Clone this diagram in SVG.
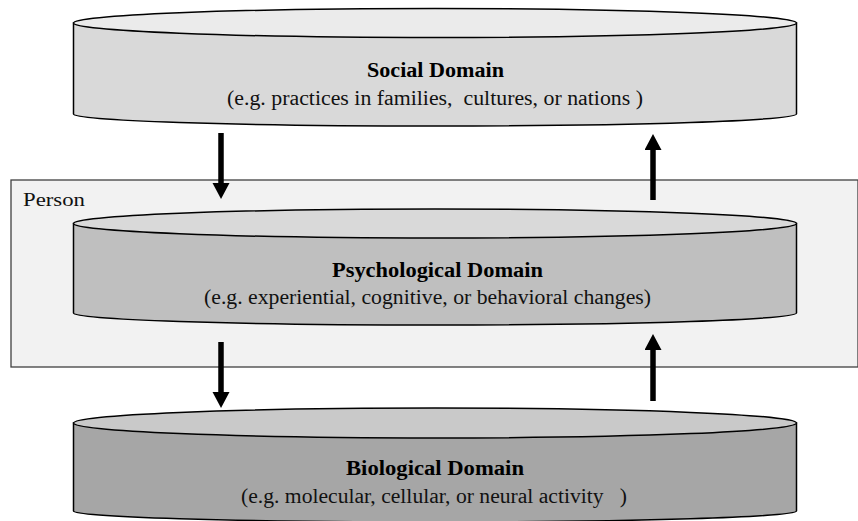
<svg xmlns="http://www.w3.org/2000/svg" width="858" height="521" viewBox="0 0 858 521">
<style>
  .cyl { stroke: #000; stroke-width: 1.5; }
  .title { font-size: 20px; font-weight: bold; fill: #000; }
  .sub { font-size: 20px; fill: #111; white-space: pre; }
  .lbl { font-size: 19px; fill: #111; }
  .arrow { stroke: #000; stroke-width: 5.5; fill: none; marker-end: url(#ah); }
</style>
<defs>
  <marker id="ah" markerUnits="userSpaceOnUse" markerWidth="17" markerHeight="18" refX="0" refY="8.5" orient="auto">
    <path d="M0,0 L16,8.5 L0,17 Z" fill="#000"/>
  </marker>
</defs>
<rect width="858" height="521" fill="#fff"/>

<g id="person">
  <rect x="11" y="180" width="847" height="187" fill="#f2f2f2" stroke="#404040" stroke-width="1.3"/>
  <text class="lbl" font-family="Liberation Serif, serif" x="23" y="206" textLength="62" lengthAdjust="spacingAndGlyphs">Person</text>
</g>

<g id="social" font-family="Liberation Serif, serif">
  <path class="cyl" fill="#d9d9d9" d="M73.5,23 V114 A361.5,12 0 0 0 796.5,114 V23 Z"/>
  <ellipse class="cyl" cx="435" cy="23" rx="361.5" ry="14.5" fill="#ebebeb"/>
  <text class="title" x="367" y="77" textLength="137" lengthAdjust="spacingAndGlyphs">Social Domain</text>
  <text class="sub" x="227" y="105" textLength="416" lengthAdjust="spacingAndGlyphs" xml:space="preserve">(e.g. practices in families,  cultures, or nations )</text>
</g>

<g id="psychological" font-family="Liberation Serif, serif">
  <path class="cyl" fill="#bfbfbf" d="M73.5,223.5 V313 A361.5,12 0 0 0 796.5,313 V223.5 Z"/>
  <ellipse class="cyl" cx="435" cy="223.5" rx="361.5" ry="14.5" fill="#d9d9d9"/>
  <text class="title" x="332" y="277" textLength="211" lengthAdjust="spacingAndGlyphs">Psychological Domain</text>
  <text class="sub" x="204" y="304" textLength="447" lengthAdjust="spacingAndGlyphs">(e.g. experiential, cognitive, or behavioral changes)</text>
</g>

<g id="biological" font-family="Liberation Serif, serif">
  <path class="cyl" fill="#a6a6a6" d="M73.5,423 V511 A361.5,11 0 0 0 796.5,511 V423 Z"/>
  <ellipse class="cyl" cx="435" cy="423" rx="361.5" ry="15" fill="#c9c9c9"/>
  <text class="title" x="346" y="475" textLength="178" lengthAdjust="spacingAndGlyphs">Biological Domain</text>
  <text class="sub" x="241" y="503" textLength="386" lengthAdjust="spacingAndGlyphs" xml:space="preserve">(e.g. molecular, cellular, or neural activity   )</text>
</g>

<g id="connectors">
  <line class="arrow" x1="221" y1="133" x2="221" y2="183"/>
  <line class="arrow" x1="653" y1="200" x2="653" y2="150"/>
  <line class="arrow" x1="221" y1="342" x2="221" y2="392"/>
  <line class="arrow" x1="653" y1="401" x2="653" y2="350"/>
</g>
</svg>
